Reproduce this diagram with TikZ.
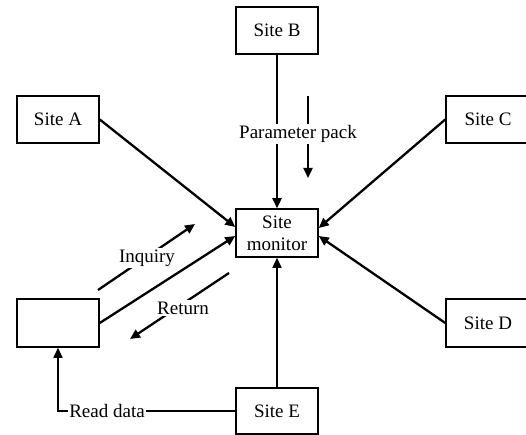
\documentclass[tikz,border=0pt]{standalone}
\usepackage{fontspec}
\setmainfont{Liberation Serif}
\usetikzlibrary{arrows.meta,calc}
\begin{document}
\begin{tikzpicture}[x=1pt,y=-1pt,
  every node/.style={font=\fontsize{19}{22}\selectfont},
  sitebox/.style={draw,line width=1.5pt,minimum width=82pt,minimum height=47pt,inner sep=0pt,align=center},
  conn/.style={line width=2.3pt,-{Triangle[length=10pt,width=9pt]}},
  thinconn/.style={line width=1.6pt,-{Triangle[length=10pt,width=9pt]}},
  lbl/.style={fill=white,inner sep=1.5pt}]
\useasboundingbox[fill=white] (0,0) rectangle (526,435);
\node[sitebox] (B) at (277,30.5) {Site B};
\node[sitebox] (A) at (58,119.5) {Site A};
\node[sitebox,minimum width=84pt] (C) at (488,119.5) {Site C};
\node[sitebox,minimum height=48pt] (M) at (277,233) {Site\\monitor};
\node[sitebox,minimum height=48pt] (L) at (58,323) {};
\node[sitebox,minimum width=84pt,minimum height=48pt] (D) at (488,323) {Site D};
\node[sitebox,minimum height=46pt] (E) at (277,411) {Site E};
\coordinate (mA) at ($(M.west)+(0,-6)$);
\coordinate (mL) at ($(M.west)+(0,3)$);
\coordinate (mC) at ($(M.east)+(0,-5)$);
\coordinate (mD) at ($(M.east)+(0,3)$);
\coordinate (p1) at (308,96);
\coordinate (p2) at (308,178);
\coordinate (i1) at (98,290);
\coordinate (i2) at (195,224);
\coordinate (r1) at (229,273);
\coordinate (r2) at (130,339);
\draw[conn] (B) -- (M);
\draw[conn] (A.east) -- (mA);
\draw[conn] (L.east) -- (mL);
\draw[conn] (C.west) -- (mC);
\draw[conn] (D.west) -- (mD);
\draw[thinconn] (E) -- (M);
\draw[conn] (p1) -- (p2);
\draw[conn] (i1) -- (i2);
\draw[conn] (r1) -- (r2);
\draw[thinconn] (E.west) -| (L.south);
\node[lbl] (lp) at (298,134) {Parameter pack};
\node[lbl] (li) at (147,258) {Inquiry};
\node[lbl] (lr) at (183,308) {Return};
\node[lbl] (ld) at (107,411) {Read data};
\end{tikzpicture}
\end{document}
